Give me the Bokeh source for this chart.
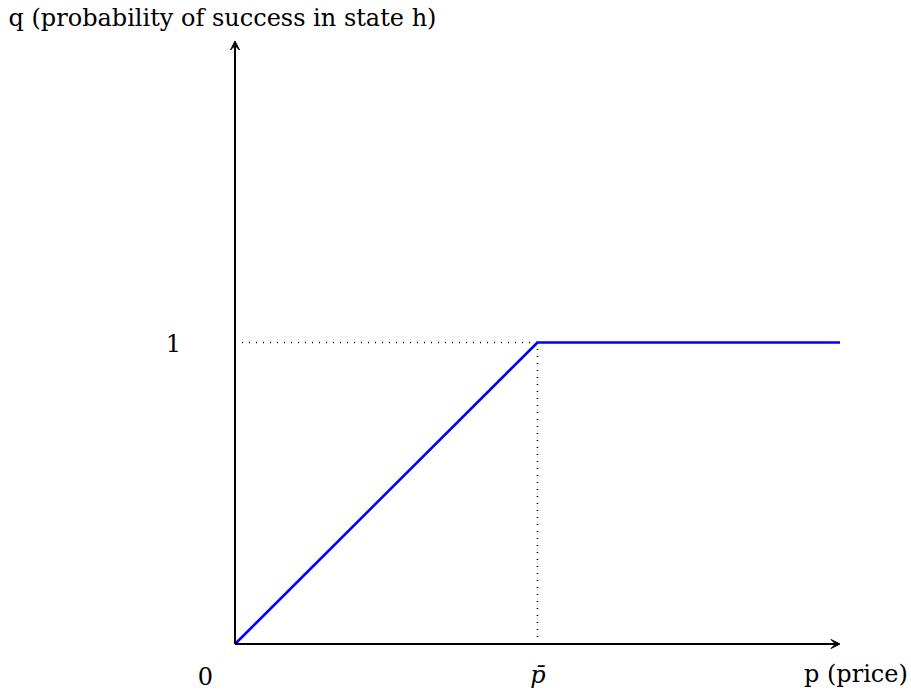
from bokeh.plotting import figure
from bokeh.models import Range1d, Arrow, VeeHead
from bokeh.core.properties import value
from bokeh.embed import file_html
from bokeh.resources import INLINE

# ---- data ----
p_pts = [0, 1, 2]          # price
q_pts = [0, 1, 1]          # probability of success in state h
p_bar = 1
q_one = 1
x_axis_end = 2
y_axis_end = 2
x_title = "p (price)"
y_title = "q (probability of success in state h)"
origin_label = "0"
pbar_label = "p\u0304"
one_label = "1"

# ---- layout ----
W, H = 911, 693
SX, SY = 302.5, 301.5          # pixels per data unit
OX, OY = 234.5, 643.5          # origin in figure pixels
x0 = -OX / SX
x1 = x0 + W / SX
y1 = OY / SY
y0 = y1 - H / SY

p = figure(width=W, height=H, x_range=Range1d(x0, x1), y_range=Range1d(y0, y1),
           output_backend="svg", toolbar_location=None, min_border=0,
           x_axis_type=None, y_axis_type=None)
p.outline_line_color = None
p.background_fill_color = "white"
p.border_fill_color = "white"

def px(d):
    return d / SX

def py(d):
    return d / SY

# dotted guides
p.segment(x0=[0, p_bar], y0=[q_one, 0], x1=[p_bar, p_bar], y1=[q_one, q_one],
          line_color="black", line_width=1.6, line_dash="1 6")

# axes with arrows
p.add_layout(Arrow(end=VeeHead(size=9, line_color="black", fill_color="black", line_width=1),
                   x_start=0, y_start=0, x_end=x_axis_end, y_end=0,
                   line_color="black", line_width=2))
p.add_layout(Arrow(end=VeeHead(size=9, line_color="black", fill_color="black", line_width=1),
                   x_start=0, y_start=0, x_end=0, y_end=y_axis_end,
                   line_color="black", line_width=2))

# blue curve
p.line(p_pts, q_pts, line_color="#0000ff", line_width=2.6)

font = value("DejaVu Serif")
fs = value("24px")

p.text(x=[0 - px(29.5)], y=[0 - py(31.5)], text=[origin_label],
       text_font=font, text_font_size=fs, text_align="center", text_baseline="middle",
       text_color="black")
p.text(x=[p_bar + px(0.5)], y=[0 - py(30.5)], text=[pbar_label],
       text_font=font, text_font_size=fs, text_font_style="italic",
       text_align="center", text_baseline="middle", text_color="black")
p.text(x=[x_axis_end - px(36)], y=[0 - py(29.5)], text=[x_title],
       text_font=font, text_font_size=fs, text_align="left", text_baseline="middle",
       text_color="black")
p.text(x=[0 - px(61.5)], y=[q_one], text=[one_label],
       text_font=font, text_font_size=fs, text_align="center", text_baseline="middle",
       text_color="black")
p.text(x=[0 - px(226.5)], y=[y_axis_end + py(23)], text=[y_title],
       text_font=font, text_font_size=fs, text_align="left", text_baseline="middle",
       text_color="black")

open("out.html", "w").write(file_html(p, INLINE))
